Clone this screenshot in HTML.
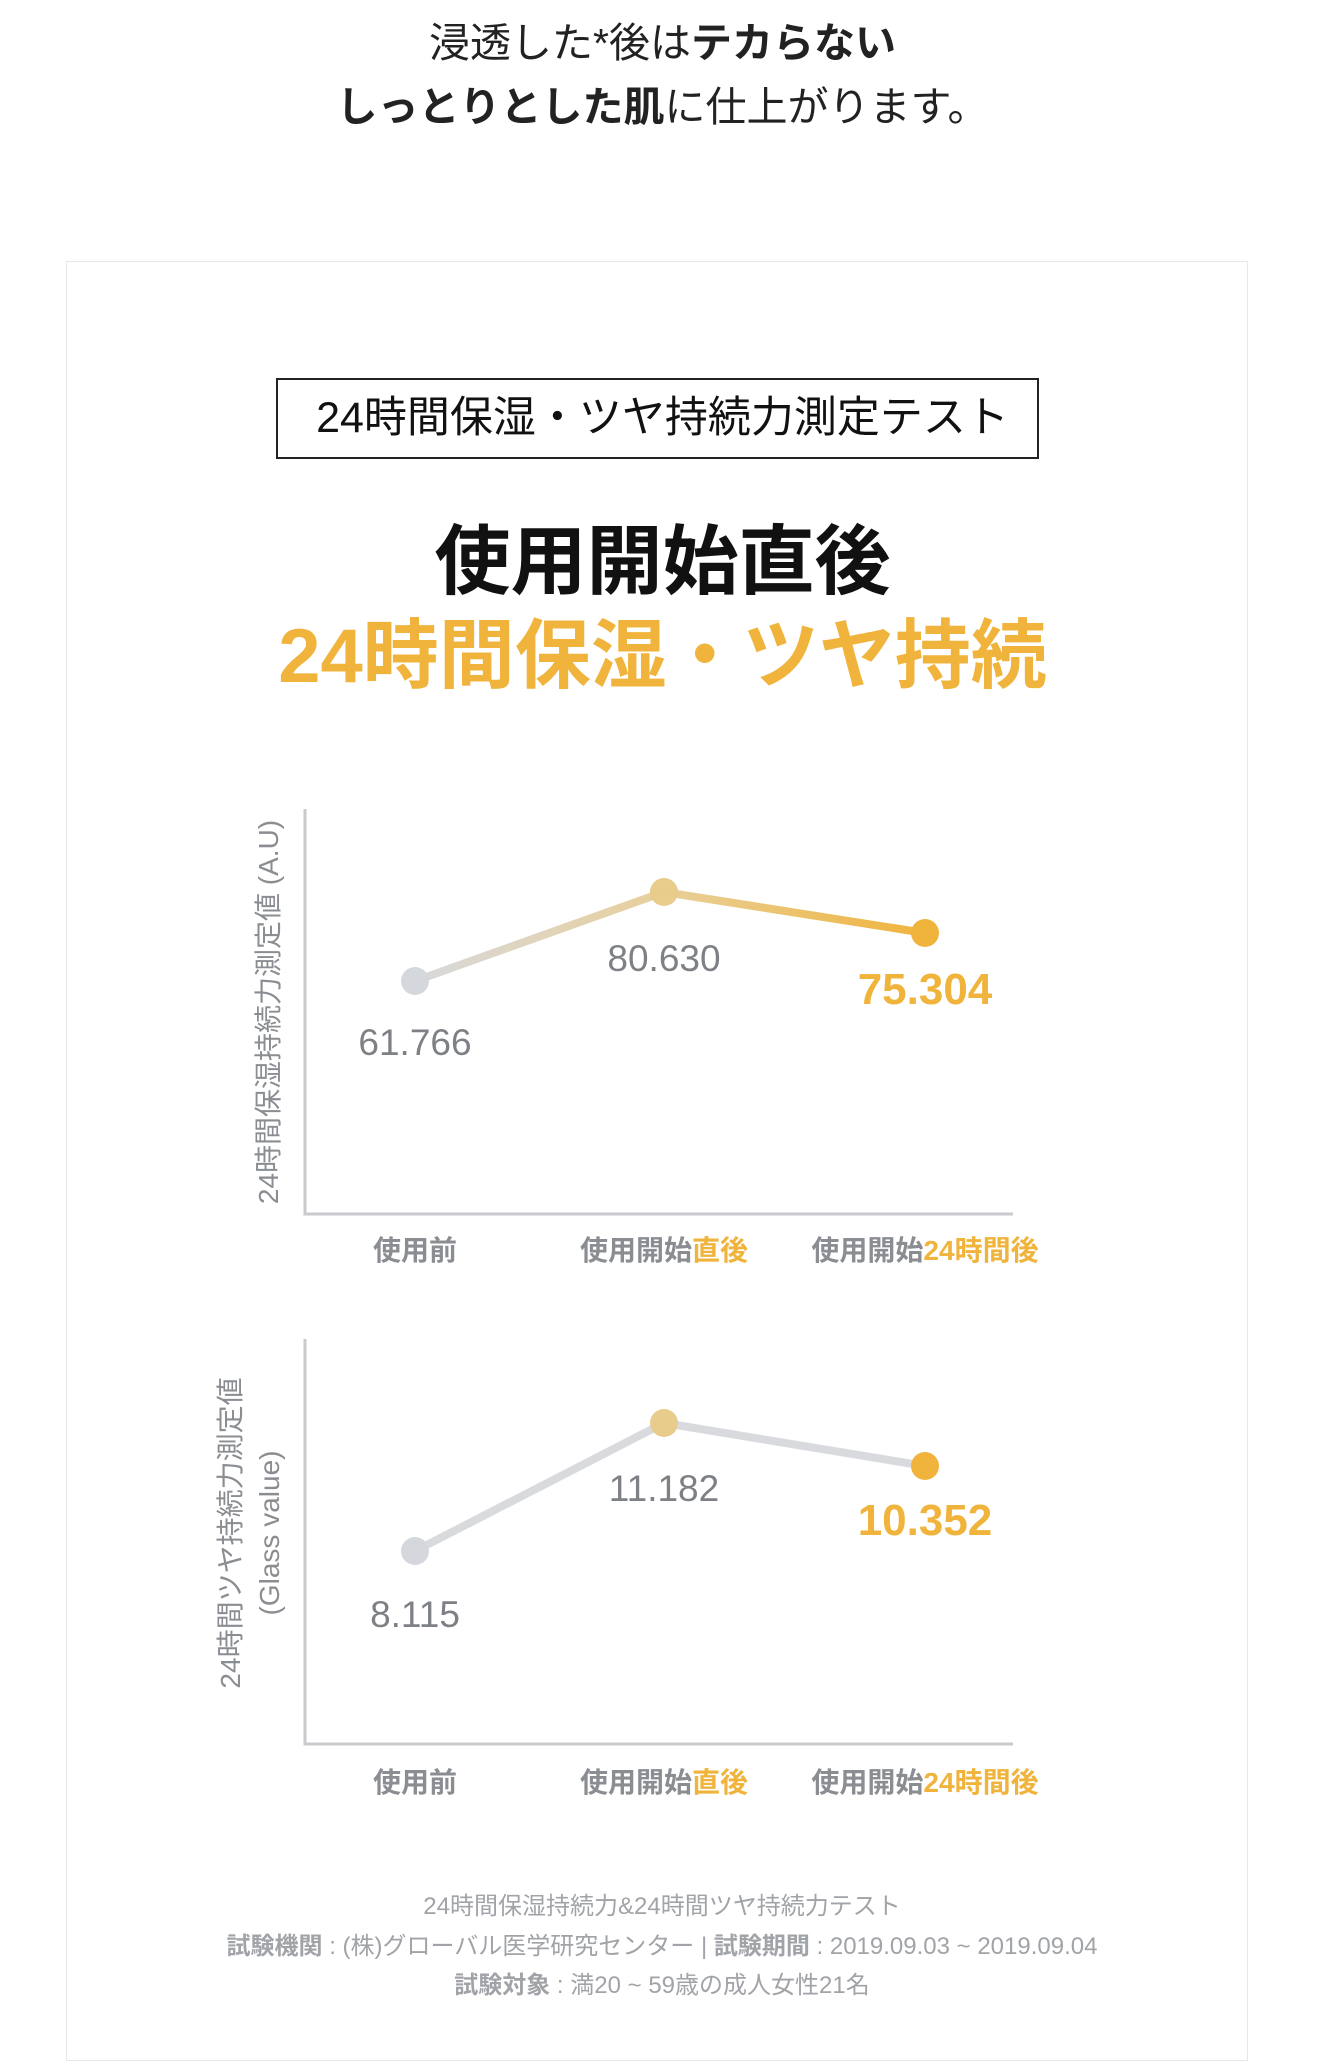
<!DOCTYPE html>
<html><head><meta charset="utf-8">
<style>
html,body{margin:0;padding:0;background:#fff;}
body{width:1325px;height:2048px;position:relative;overflow:hidden;font-family:"Liberation Sans","Noto Sans CJK JP",sans-serif;}
.t{position:absolute;left:0;width:1325px;text-align:center;white-space:nowrap;}
</style></head><body>
<div class="t" style="top:16px;font-size:41px;color:#222;line-height:54px;">浸透した*後は<b>テカらない</b></div>
<div class="t" style="top:80px;font-size:41px;color:#222;line-height:54px;"><b>しっとりとした肌</b>に仕上がります。</div>

<div style="position:absolute;left:66px;top:261px;width:1182px;height:1800px;border:1px solid #e6e8ea;box-sizing:border-box;"></div>

<div style="position:absolute;left:276px;top:378px;width:763px;height:81px;border:2px solid #222;box-sizing:border-box;"></div>
<div class="t" style="top:390px;font-size:43px;color:#111;line-height:56px;">24時間保湿・ツヤ持続力測定テスト</div>

<div class="t" style="top:516px;font-size:76px;font-weight:bold;color:#111;line-height:94px;">使用開始直後</div>
<div class="t" style="top:610px;font-size:76px;font-weight:bold;color:#f0b43c;line-height:94px;">24時間保湿・ツヤ持続</div>

<svg width="1325" height="2048" style="position:absolute;left:0;top:0;" xmlns="http://www.w3.org/2000/svg">
<defs>
<linearGradient id="g1" x1="415" y1="0" x2="925" y2="0" gradientUnits="userSpaceOnUse">
<stop offset="0" stop-color="#d8d9dc"/><stop offset="0.5" stop-color="#e8cf98"/><stop offset="1" stop-color="#f0b43c"/>
</linearGradient>
</defs>
<g font-family="Liberation Sans, Noto Sans CJK JP, sans-serif">
<!-- chart 1 -->
<path d="M305 809 V1214 H1013" fill="none" stroke="#c8cacd" stroke-width="3"/>
<polyline points="415,981 664,892 925,933" fill="none" stroke="url(#g1)" stroke-width="8" stroke-linejoin="round"/>
<circle cx="415" cy="981" r="14" fill="#d4d7dc"/>
<circle cx="664" cy="892" r="14" fill="#e8cc8c"/>
<circle cx="925" cy="933" r="14" fill="#f0b43c"/>
<text x="415" y="1055" font-size="37" fill="#7d8085" text-anchor="middle">61.766</text>
<text x="664" y="971" font-size="37" fill="#7d8085" text-anchor="middle">80.630</text>
<text x="925" y="1004" font-size="44" font-weight="bold" fill="#f0b43c" text-anchor="middle">75.304</text>
<text transform="translate(278,1012) rotate(-90)" font-size="28" fill="#8a8d91" text-anchor="middle">24時間保湿持続力測定値 (A.U)</text>
<g font-size="28" font-weight="bold" fill="#8a8d91" text-anchor="middle">
<text x="415" y="1260">使用前</text>
<text x="664" y="1260">使用開始<tspan fill="#f0b43c">直後</tspan></text>
<text x="925" y="1260">使用開始<tspan fill="#f0b43c">24時間後</tspan></text>
</g>
<!-- chart 2 -->
<path d="M305 1339 V1744 H1013" fill="none" stroke="#c8cacd" stroke-width="3"/>
<polyline points="415,1551 664,1423 925,1466" fill="none" stroke="#d8dadd" stroke-width="8" stroke-linejoin="round"/>
<circle cx="415" cy="1551" r="14" fill="#d4d7dc"/>
<circle cx="664" cy="1423" r="14" fill="#e8cc8c"/>
<circle cx="925" cy="1466" r="14" fill="#f0b43c"/>
<text x="415" y="1627" font-size="37" fill="#7d8085" text-anchor="middle">8.115</text>
<text x="664" y="1501" font-size="37" fill="#7d8085" text-anchor="middle">11.182</text>
<text x="925" y="1535" font-size="44" font-weight="bold" fill="#f0b43c" text-anchor="middle">10.352</text>
<text transform="translate(240,1533) rotate(-90)" font-size="28" fill="#8a8d91" text-anchor="middle">24時間ツヤ持続力測定値</text>
<text transform="translate(279,1533) rotate(-90)" font-size="28" fill="#8a8d91" text-anchor="middle">(Glass value)</text>
<g font-size="28" font-weight="bold" fill="#8a8d91" text-anchor="middle">
<text x="415" y="1792">使用前</text>
<text x="664" y="1792">使用開始<tspan fill="#f0b43c">直後</tspan></text>
<text x="925" y="1792">使用開始<tspan fill="#f0b43c">24時間後</tspan></text>
</g>
<!-- footer -->
<g font-size="24" fill="#a0a3a7" text-anchor="middle">
<text x="662" y="1914">24時間保湿持続力&amp;24時間ツヤ持続力テスト</text>
<text x="662" y="1954"><tspan font-weight="bold">試験機関</tspan> : (株)グローバル医学研究センター | <tspan font-weight="bold">試験期間</tspan> : 2019.09.03 ~ 2019.09.04</text>
<text x="662" y="1993"><tspan font-weight="bold">試験対象</tspan> : 満20 ~ 59歳の成人女性21名</text>
</g>
</g>
</svg>
</body></html>
